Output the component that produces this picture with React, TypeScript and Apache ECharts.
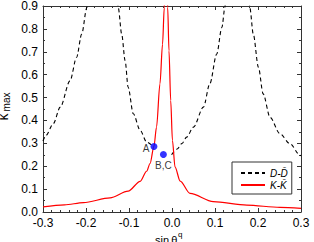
import React, { useEffect, useRef } from "react";
import * as echarts from "echarts";

// x = sin θ^q, y = κ_max
const ddbarSeg1: [number, number][] = [
  [-0.3, 0.31], [-0.293, 0.335], [-0.276, 0.386], [-0.26, 0.458], [-0.237, 0.574],
  [-0.222, 0.675], [-0.21, 0.777], [-0.198, 0.893], [-0.195, 0.95],
];
const ddbarSeg2: [number, number][] = [
  [-0.127, 0.95], [-0.125, 0.893], [-0.117, 0.777], [-0.109, 0.661], [-0.102, 0.545],
  [-0.09, 0.429], [-0.074, 0.357], [-0.059, 0.306], [-0.043, 0.285],
];
const ddbarSeg3: [number, number][] = [
  [-0.001, 0.25], [0.012, 0.275], [0.023, 0.299], [0.034, 0.327], [0.05, 0.371], [0.073, 0.458],
  [0.088, 0.56], [0.104, 0.69], [0.116, 0.806], [0.123, 0.893], [0.125, 0.95],
];
const ddbarSeg4: [number, number][] = [
  [0.179, 0.95], [0.181, 0.893], [0.189, 0.777], [0.201, 0.632], [0.212, 0.516],
  [0.228, 0.414], [0.251, 0.342], [0.274, 0.299], [0.298, 0.248], [0.3, 0.245],
];
const kkbar: [number, number][] = [
  [-0.3, 0.022], [-0.25, 0.031], [-0.206, 0.041], [-0.144, 0.062], [-0.102, 0.091],
  [-0.074, 0.134], [-0.059, 0.178], [-0.051, 0.212], [-0.042, 0.287], [-0.036, 0.371],
  [-0.028, 0.56], [-0.022, 0.733], [-0.018, 0.893], [-0.017, 0.95], [-0.011, 0.95],
  [-0.01, 0.893], [-0.007, 0.704], [-0.003, 0.487], [0.001, 0.313], [0.007, 0.197],
  [0.019, 0.135], [0.042, 0.081], [0.096, 0.045], [0.174, 0.03], [0.251, 0.02], [0.3, 0.016],
];
const markedPoints: { name: string; value: [number, number]; pos: string }[] = [
  { name: "A", value: [-0.042, 0.286], pos: "left" },
  { name: "B,C", value: [-0.02, 0.251], pos: "bottom" },
];
const legendNames = ["D-D\u0304", "K-K\u0304"];

const FONT = "'Liberation Sans', Arial, Helvetica, sans-serif";

export default function App() {
  const ref = useRef<HTMLDivElement>(null);
  useEffect(() => {
    if (!ref.current) return;
    document.body.style.margin = "0";
    const chart = echarts.init(ref.current, null, { renderer: "svg" });
    const gap: any = [null, null];
    const ddData: any[] = [...ddbarSeg1, gap, ...ddbarSeg2, gap, ...ddbarSeg3, gap, ...ddbarSeg4];
    const axisLine = { show: true, onZero: false, lineStyle: { color: "#333", width: 1 } };
    const xCommon = {
      type: "value" as const,
      min: -0.3,
      max: 0.3,
      interval: 0.1,
      splitLine: { show: false },
      axisLine,
      axisTick: { show: true, inside: true, length: 4, lineStyle: { color: "#333" } },
      minorTick: { show: true, splitNumber: 5, length: 2, lineStyle: { color: "#333" } },
    };
    const yCommon = {
      type: "value" as const,
      min: 0,
      max: 0.9,
      interval: 0.1,
      splitLine: { show: false },
      axisLine,
      axisTick: { show: true, inside: true, length: 4, lineStyle: { color: "#333" } },
      minorTick: { show: true, splitNumber: 2, length: 2, lineStyle: { color: "#333" } },
    };
    chart.setOption({
      animation: false,
      grid: { left: 43, right: 13, top: 5, bottom: 30 },
      xAxis: [
        {
          ...xCommon,
          position: "bottom",
          axisLabel: {
            show: true, margin: 5, color: "#000", fontSize: 12, fontFamily: FONT,
            showMinLabel: true, showMaxLabel: true,
            formatter: (v: number) => v.toFixed(1),
          },
        },
        { ...xCommon, position: "top", axisLabel: { show: false } },
      ],
      yAxis: [
        {
          ...yCommon,
          position: "left",
          axisLabel: {
            show: true, margin: 5, color: "#000", fontSize: 12, fontFamily: FONT,
            showMinLabel: true, showMaxLabel: true,
            formatter: (v: number) => v.toFixed(1),
          },
        },
        { ...yCommon, position: "right", axisLabel: { show: false } },
      ],
      legend: {
        data: legendNames,
        orient: "vertical",
        left: 232,
        top: 162,
        itemWidth: 24,
        itemHeight: 10,
        itemGap: 2,
        padding: [6, 4, 4, 8],
        borderColor: "#333",
        borderWidth: 1,
        backgroundColor: "#fff",
        itemStyle: { opacity: 0 },
        textStyle: { fontSize: 10, fontStyle: "italic", color: "#000", fontFamily: FONT, lineHeight: 10 },
      },
      series: [
        {
          name: legendNames[0],
          type: "line",
          data: ddData,
          symbol: "none",
          smooth: 0.3,
          smoothMonotone: "x",
          connectNulls: false,
          lineStyle: { color: "#000", width: 1.1, type: [4, 3] },
          itemStyle: { color: "#000" },
          z: 2,
        },
        {
          name: legendNames[1],
          type: "line",
          data: kkbar,
          symbol: "none",
          smooth: 0.3,
          smoothMonotone: "x",
          lineStyle: { color: "#ff0000", width: 1.2 },
          itemStyle: { color: "#ff0000" },
          z: 3,
        },
        {
          name: "points",
          type: "scatter",
          symbolSize: 7,
          itemStyle: { color: "#0000ff" },
          z: 5,
          data: markedPoints.map((p) => ({
            name: p.name,
            value: p.value,
            label: {
              show: true,
              formatter: p.name,
              position: p.pos,
              distance: p.pos === "left" ? 1 : 2,
              offset: p.pos === "left" ? [0, 2] : [0, 0],
              fontSize: 10,
              color: "#000",
              fontFamily: FONT,
            },
          })),
        },
      ],
      graphic: [
        {
          type: "text",
          x: 155,
          y: 240,
          style: { text: "sin\u2009\u03b8", fontSize: 11, fontFamily: FONT, fill: "#000", verticalAlign: "middle", align: "left" },
        },
        {
          type: "text",
          x: 178,
          y: 234,
          style: { text: "q", fontSize: 8, fontFamily: FONT, fill: "#000", verticalAlign: "middle", align: "left" },
        },
        {
          type: "text",
          x: 3,
          y: 117,
          rotation: Math.PI / 2,
          style: { text: "\u03ba", fontSize: 14, fontFamily: FONT, fill: "#000", verticalAlign: "middle", align: "center" },
        },
        {
          type: "text",
          x: 6,
          y: 102,
          rotation: Math.PI / 2,
          style: { text: "max", fontSize: 10, fontFamily: FONT, fill: "#000", verticalAlign: "middle", align: "center" },
        },
      ],
    });
    return () => chart.dispose();
  }, []);
  return <div ref={ref} style={{ width: 314, height: 242 }} />;
}
